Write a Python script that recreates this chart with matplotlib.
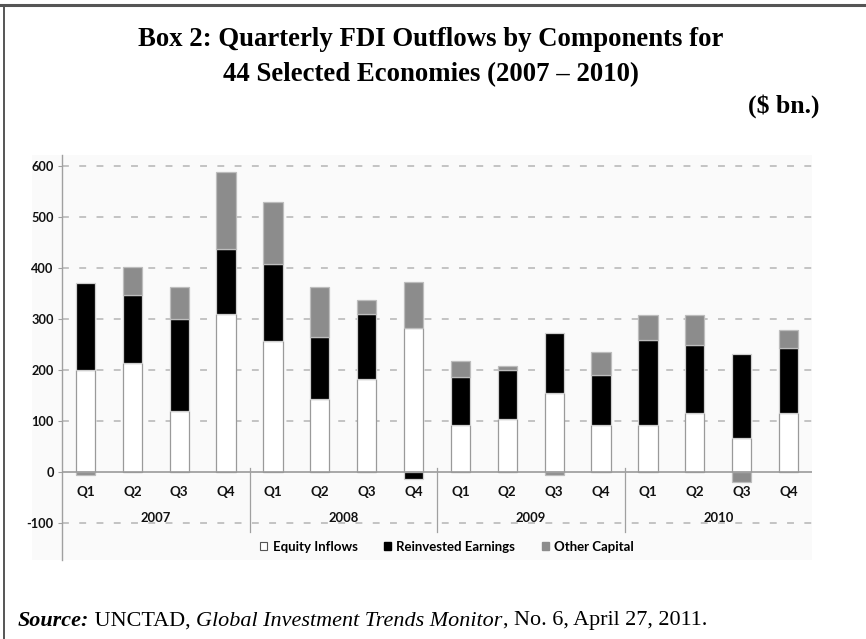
import matplotlib
matplotlib.use('Agg')
import matplotlib.pyplot as plt
from matplotlib.patches import Rectangle, Patch
from matplotlib.lines import Line2D

# quarterly FDI outflows, $ bn
years = ['2007', '2008', '2009', '2010']
quarters = ['Q1', 'Q2', 'Q3', 'Q4'] * 4
equity = [200, 214, 120, 310, 257, 143, 183, 283, 92, 104, 155, 93, 92, 116, 68, 116]
reinvested = [172, 133, 180, 127, 151, 122, 127, -14, 94, 96, 118, 98, 168, 134, 163, 127]
other = [-6, 55, 64, 151, 122, 99, 27, 90, 33, 9, -5, 44, 48, 58, -19, 36]

sans = ['Lato', 'DejaVu Sans']
serif = ['Liberation Serif', 'DejaVu Serif']

fig = plt.figure(figsize=(8.66, 6.39), dpi=100)
W, H = 866, 639

def fx(px):
    return px / W

def fy(py):
    return 1 - py / H

# page frame: top and left rules
fig.add_artist(Line2D([0, 1], [fy(5), fy(5)], color='#555555', lw=2.2))
fig.add_artist(Line2D([fx(3.5), fx(3.5)], [0, fy(5)], color='#555555', lw=1.4))

# light panel behind the chart
fig.add_artist(Rectangle((fx(32), fy(560)), fx(812) - fx(32), fy(155) - fy(560),
                         facecolor='#fafafa', edgecolor='none', zorder=0))

ax = fig.add_axes([fx(62), fy(560), fx(812) - fx(62), fy(155) - fy(560)])
ax.set_facecolor('none')
ax.set_xlim(-0.5, 15.5)
ax.set_ylim(-172, 622)

x = list(range(len(equity)))
bw = 0.41

# positive parts stack upward, negative parts go below zero
pos_base = [0.0] * len(x)
neg_base = [0.0] * len(x)

def stack(vals, color, edge):
    bottoms = []
    heights = []
    for i, v in enumerate(vals):
        if v >= 0:
            bottoms.append(pos_base[i])
            pos_base[i] += v
        else:
            bottoms.append(neg_base[i] + v)
            neg_base[i] += v
        heights.append(abs(v))
    ax.bar(x, heights, bw, bottom=bottoms, color=color, edgecolor=edge,
           linewidth=0.9, zorder=3)

stack(equity, 'white', '#9a9a9a')
stack(reinvested, 'black', '#cfcfcf')
stack(other, '#8c8c8c', '#bdbdbd')

# grid
for v in range(-100, 700, 100):
    if v == 0:
        continue
    ax.axhline(v, color='#b4b4b4', lw=1.1, dashes=(4.5, 6.8), zorder=1)
ax.axhline(0, color='#9a9a9a', lw=1.2, zorder=4)

for s in ['top', 'right', 'bottom']:
    ax.spines[s].set_visible(False)
ax.spines['left'].set_color('#a0a0a0')
ax.spines['left'].set_linewidth(1.0)

ax.set_yticks(range(-100, 700, 100))
ax.set_yticklabels([str(v) for v in range(-100, 700, 100)],
                   fontfamily=sans, fontweight='bold', fontsize=9.2, color='#111111')
ax.tick_params(axis='y', length=3, color='#a0a0a0', pad=3)
ax.set_xticks([])

# quarter and year labels under the zero line
for i, q in enumerate(quarters):
    ax.text(i, -38, q, ha='center', va='center', fontfamily=sans,
            fontweight='bold', fontsize=9.6, color='#111111')
for k, yr in enumerate(years):
    ax.text(4 * k + 1.5, -89, yr, ha='center', va='center', fontfamily=sans,
            fontweight='bold', fontsize=9.4, color='#111111')
for b in [3.5, 7.5, 11.5]:
    ax.plot([b, b], [9, -117], color='#a0a0a0', lw=0.9, zorder=4, clip_on=False)

handles = [Patch(facecolor='white', edgecolor='#555555', linewidth=0.8),
           Patch(facecolor='black', edgecolor='black'),
           Patch(facecolor='#8c8c8c', edgecolor='#8c8c8c')]
fig.legend(handles, ['Equity Inflows', 'Reinvested Earnings', 'Other Capital'],
           loc='center', bbox_to_anchor=(fx(447), fy(547)), ncol=3, frameon=False,
           handlelength=0.55, handleheight=0.55, handletextpad=0.4,
           columnspacing=2.0, prop={'family': sans, 'weight': 'bold', 'size': 9.5})

# headings
fig.text(fx(431), fy(40), 'Box 2: Quarterly FDI Outflows by Components for',
         ha='center', va='center', fontfamily=serif, fontweight='bold', fontsize=19.3)
fig.text(fx(431), fy(75), '44 Selected Economies (2007 \u2013 2010)',
         ha='center', va='center', fontfamily=serif, fontweight='bold', fontsize=19.3)
fig.text(fx(820), fy(106), '($ bn.)', ha='right', va='center',
         fontfamily=serif, fontweight='bold', fontsize=18.5)

# source line built from styled pieces
renderer = fig.canvas.get_renderer()
pieces = [('Source:', 'italic', 'bold'), (' UNCTAD, ', 'normal', 'normal'),
          ('Global Investment Trends Monitor', 'italic', 'normal'),
          (', No. 6, April 27, 2011.', 'normal', 'normal')]
cur = fx(18)
for txt, style, weight in pieces:
    t = fig.text(cur, fy(621), txt, ha='left', va='center', fontfamily=serif,
                 fontstyle=style, fontweight=weight, fontsize=15.9)
    bb = t.get_window_extent(renderer)
    cur = bb.x1 / W

fig.savefig('out.png', dpi=100)
